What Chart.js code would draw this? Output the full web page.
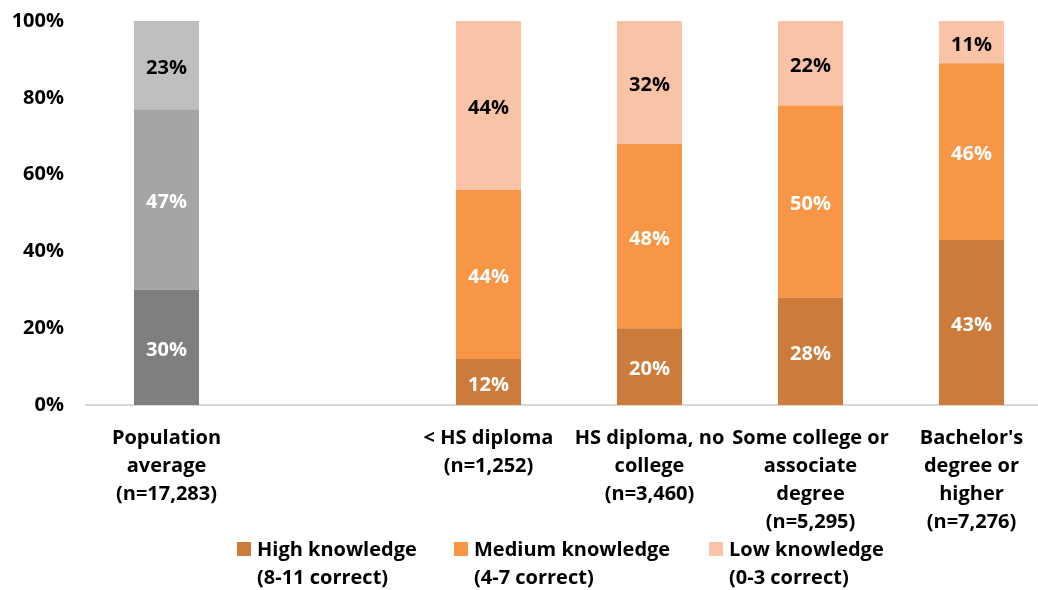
<!DOCTYPE html>
<html>
<head>
<meta charset="utf-8">
<script src="https://cdn.jsdelivr.net/npm/chart.js@4"></script>
<style>
  html, body { margin: 0; padding: 0; background: #fff; overflow: hidden; }
  #wrap { width: 1052px; height: 590px; }
</style>
</head>
<body>
<div id="wrap"><canvas id="graphCanvas" width="1052" height="590"></canvas></div>
<script>
// ---------------- DATA ----------------
const categories = [
    ['Population', 'average', '(n=17,283)'],
    '',
    ['< HS diploma', '(n=1,252)'],
    ['HS diploma, no', 'college', '(n=3,460)'],
    ['Some college or', 'associate', 'degree', '(n=5,295)'],
    ["Bachelor's", 'degree or', 'higher', '(n=7,276)']
];
const highKnowledge = [30, null, 12, 20, 28, 43];
const mediumKnowledge = [47, null, 44, 48, 50, 46];
const lowKnowledge = [23, null, 44, 32, 22, 11];
const yTicks = [0, 20, 40, 60, 80, 100];
const legendLabels = [
    ['High knowledge', '(8-11 correct)'],
    ['Medium knowledge', '(4-7 correct)'],
    ['Low knowledge', '(0-3 correct)']
];

// colours: first slot is the grey population bar
const darkOrange = '#cd7b3a', midOrange = '#f79646', lightOrange = '#f9c3a8';
const colHigh = ['#7f7f7f', null, darkOrange, darkOrange, darkOrange, darkOrange];
const colMed = ['#a5a5a5', null, midOrange, midOrange, midOrange, midOrange];
const colLow = ['#bfbfbf', null, lightOrange, lightOrange, lightOrange, lightOrange];
const legendColors = [darkOrange, midOrange, lightOrange];

const FONT = '"Open Sans", "Liberation Sans", sans-serif';
const FSIZE = 20;

// ---------------- PLUGINS ----------------
// labels inside each bar segment
const segmentLabels = {
    id: 'segmentLabels',
    afterDatasetsDraw(chart) {
        const ctx = chart.ctx;
        ctx.save();
        ctx.font = 'bold ' + FSIZE + 'px ' + FONT;
        ctx.textAlign = 'center';
        ctx.textBaseline = 'middle';
        chart.data.datasets.forEach((ds, i) => {
            const meta = chart.getDatasetMeta(i);
            meta.data.forEach((bar, j) => {
                const v = ds.data[j];
                if (v == null) return;
                ctx.fillStyle = i === 2 ? '#000' : '#fff';
                ctx.fillText(v + '%', bar.x, (bar.y + bar.base) / 2 + 3);
            });
        });
        ctx.restore();
    }
};

// two-line legend under the axis labels
const bottomLegend = {
    id: 'bottomLegend',
    afterDraw(chart) {
        const ctx = chart.ctx;
        const xs = [237, 454, 709];
        ctx.save();
        ctx.font = 'bold ' + FSIZE + 'px ' + FONT;
        ctx.textAlign = 'left';
        ctx.textBaseline = 'middle';
        legendLabels.forEach((lines, i) => {
            ctx.fillStyle = legendColors[i];
            ctx.fillRect(xs[i], 542, 14, 14);
            ctx.fillStyle = '#000';
            lines.forEach((t, k) => ctx.fillText(t, xs[i] + 20, 550 + k * 28));
        });
        ctx.restore();
    }
};

// ---------------- CHART ----------------
const data = {
    labels: categories,
    datasets: [
        { label: legendLabels[0].join(' '), data: highKnowledge, backgroundColor: colHigh },
        { label: legendLabels[1].join(' '), data: mediumKnowledge, backgroundColor: colMed },
        { label: legendLabels[2].join(' '), data: lowKnowledge, backgroundColor: colLow }
    ]
};

const config = {
    type: 'bar',
    data,
    options: {
        responsive: false,
        animation: false,
        layout: { padding: { top: 21, left: 0, right: 0, bottom: 0 } },
        datasets: {
            bar: { categoryPercentage: 1, barPercentage: 0.404, borderWidth: 0 }
        },
        plugins: {
            legend: { display: false },
            tooltip: { enabled: false }
        },
        scales: {
            x: {
                stacked: true,
                grid: { display: false, drawTicks: false },
                border: { display: true, color: '#d9d9d9', width: 2 },
                ticks: {
                    color: '#000',
                    padding: 19,
                    maxRotation: 0,
                    autoSkip: false,
                    font: { family: FONT, size: FSIZE, weight: 'bold', lineHeight: 28 / FSIZE }
                },
                afterFit(scale) { scale.height = 185; scale.paddingLeft = 0; scale.paddingRight = 0; }
            },
            y: {
                stacked: true,
                min: 0,
                max: 100,
                grid: { display: false, drawTicks: false },
                border: { display: false },
                afterBuildTicks(scale) { scale.ticks = yTicks.map(v => ({ value: v })); },
                ticks: {
                    color: '#000',
                    padding: 22,
                    callback: v => v + '%',
                    font: { family: FONT, size: FSIZE, weight: 'bold' }
                },
                afterFit(scale) { scale.width = 86; scale.paddingTop = 0; scale.paddingBottom = 0; }
            }
        }
    },
    plugins: [segmentLabels, bottomLegend]
};

const graphCanvas = new Chart(
    document.getElementById('graphCanvas').getContext('2d'),
    config
);
</script>
</body>
</html>
